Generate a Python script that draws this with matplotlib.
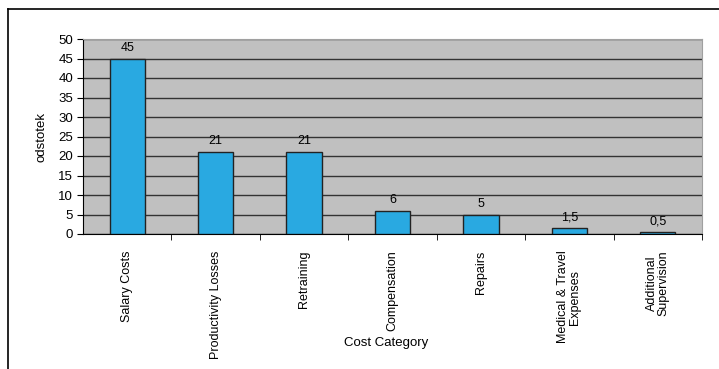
import matplotlib.pyplot as plt
from matplotlib.lines import Line2D

plt.rcParams['font.family'] = ['Liberation Sans', 'DejaVu Sans']

categories = ['Salary Costs', 'Productivity Losses', 'Retraining', 'Compensation',
              'Repairs', 'Medical & Travel\nExpenses', 'Additional\nSupervision']
values = [45, 21, 21, 6, 5, 1.5, 0.5]
value_labels = ['45', '21', '21', '6', '5', '1,5', '0,5']
y_ticks = [0, 5, 10, 15, 20, 25, 30, 35, 40, 45, 50]

W, H = 719, 369
fig = plt.figure(figsize=(W / 100, H / 100), dpi=100)

# plot area in pixels: left 83, right 702, top 39, bottom 234
ax = fig.add_axes([83 / W, 1 - 234 / H, (702 - 83) / W, (234 - 39) / H])
ax.set_facecolor('#c0c0c0')

x = list(range(len(categories)))
ax.bar(x, values, width=0.4, color='#29a9e1', edgecolor='#222222', linewidth=1.0, zorder=3)
for xi, v, lab in zip(x, values, value_labels):
    ax.text(xi, v + 1.2, lab, ha='center', va='bottom', fontsize=9, zorder=4)

ax.set_xlim(-0.5, len(categories) - 0.5)
ax.set_ylim(0, 50)
ax.set_yticks(y_ticks)
ax.yaxis.grid(True, color='#333333', linewidth=1.0, zorder=1)
ax.set_axisbelow(True)

ax.set_xticks(x)
ax.set_xticklabels(categories, rotation=90, fontsize=9, va='top', ha='center',
                   multialignment='center', linespacing=1.0)
ax.tick_params(axis='x', length=0, pad=12)
ax.set_xticks([i + 0.5 for i in x[:-1]] + [len(x) - 0.5], minor=True)
ax.tick_params(axis='x', which='minor', length=4, direction='out', color='black')
ax.tick_params(axis='y', length=4, direction='out', labelsize=9.5, pad=3)

for side in ['top', 'right']:
    ax.spines[side].set_color('#a0a0a0')
ax.spines['left'].set_color('black')
ax.spines['bottom'].set_color('black')

ax.set_ylabel('odstotek', fontsize=9.5, labelpad=8)
fig.text(386 / W, 1 - 343 / H, 'Cost Category', fontsize=9.5, ha='center', va='center')

# outer chart border (top and left edges visible)
fig.add_artist(Line2D([8 / W, 1], [1 - 9 / H, 1 - 9 / H], transform=fig.transFigure,
                      color='black', linewidth=1.2))
fig.add_artist(Line2D([8 / W, 8 / W], [0, 1 - 9 / H], transform=fig.transFigure,
                      color='black', linewidth=1.2))

fig.savefig('out.png', dpi=100)
